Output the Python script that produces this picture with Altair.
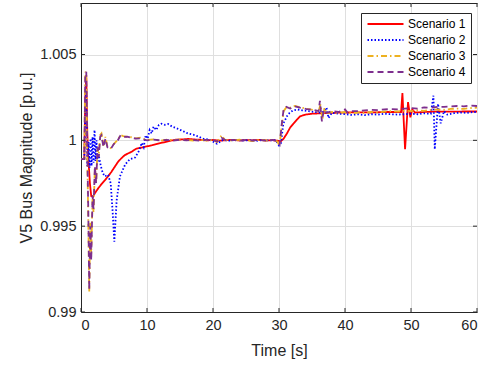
import altair as alt
import pandas as pd

scenarios = ["Scenario 1", "Scenario 2", "Scenario 3", "Scenario 4"]
colors = ["#FF0000", "#0000FF", "#EDB120", "#7E2F8E"]
dashes = [[1, 0], [1.5, 2], [6, 3, 1.5, 3], [6, 4]]

x_ticks = [0, 10, 20, 30, 40, 50, 60]
y_ticks = [0.99, 0.995, 1.0, 1.005]

s1 = [(0, 0.9989), (0.5, 0.9989), (0.65, 1.0025), (0.8, 1.0038), (0.95, 1.0005), (1.1, 0.9990),
      (1.35, 0.9975), (1.55, 0.99675), (1.8, 0.9967), (2.1, 0.99692), (2.6, 0.9972), (3.1, 0.99745),
      (3.6, 0.99767), (4.1, 0.9979), (4.6, 0.99816), (5.1, 0.99845), (5.6, 0.99874), (6.1, 0.99895),
      (6.6, 0.99913), (7.1, 0.99923), (7.6, 0.99932), (8.4, 0.99952), (9.2, 0.99958), (10.0, 0.99965),
      (10.8, 0.99972), (11.7, 0.99981), (12.5, 0.99988), (13.3, 0.99995), (14.2, 1.00003), (15.2, 1.00005),
      (16.2, 1.00008), (17.2, 1.00005), (18.2, 1.00003), (19.1, 1.0), (20.0, 1.00002), (21.0, 0.99998),
      (22.0, 1.00001), (23.0, 1.00003), (24.0, 0.99999), (25.0, 1.00002), (26.0, 1.0), (27.0, 1.00003),
      (28.0, 0.99999), (29.0, 1.00001), (29.8, 0.99998), (30.3, 0.99995), (30.7, 1.0001), (31.2, 1.0004),
      (31.7, 1.00075), (32.2, 1.00098), (32.7, 1.0012), (33.2, 1.0014), (34.0, 1.0015), (35.0, 1.00155),
      (36.5, 1.00158), (38.0, 1.0016), (40.0, 1.00162), (42.0, 1.00163), (44.0, 1.00162), (46.0, 1.00165),
      (48.0, 1.00165), (48.5, 1.00165), (48.7, 1.00275), (49.1, 0.99948), (49.55, 1.00223), (49.9, 1.00134),
      (50.2, 1.0018), (50.6, 1.00162), (52.0, 1.00165), (54.0, 1.00168), (56.0, 1.00167), (58.0, 1.00168),
      (60.0, 1.00168)]

s2 = [(0, 0.9989), (0.5, 0.9989), (0.65, 1.0015), (0.8, 1.0030), (0.95, 0.9985), (1.15, 0.9999),
      (1.3, 0.9984), (1.45, 1.0001), (1.6, 0.9985), (1.75, 1.0002), (1.9, 0.9987), (2.05, 1.0006),
      (2.2, 0.9988), (2.35, 1.0000), (2.5, 0.9987), (2.7, 0.9991), (3.0, 0.9985), (3.3, 0.9981),
      (3.6, 0.9979), (4.1, 0.9980), (4.5, 0.9975), (4.8, 0.9958), (5.05, 0.9941), (5.4, 0.9965),
      (5.9, 0.9979), (6.7, 0.9986), (7.4, 0.9989), (8.2, 0.9990), (8.8, 0.9994), (9.2, 0.99985),
      (9.5, 0.9996), (9.8, 1.0003), (10.1, 1.0001), (10.4, 1.0006), (10.7, 1.0004), (11.0, 1.0008),
      (11.4, 1.0006), (11.8, 1.0009), (12.2, 1.00097), (12.7, 1.0009), (13.2, 1.00095), (13.8, 1.0008),
      (14.5, 1.0007), (15.2, 1.00058), (16.2, 1.0004), (17.3, 1.0003), (18.5, 1.0001), (19.5, 1.00003),
      (20.6, 0.9998), (21.5, 1.00002), (22.5, 0.99998), (23.5, 1.00003), (24.5, 0.99999), (25.5, 1.00001),
      (26.5, 0.99997), (27.5, 1.00002), (28.5, 0.99999), (29.5, 1.00001), (30.0, 0.9997), (30.3, 0.99985),
      (30.65, 1.00097), (31.2, 1.0014), (31.6, 1.0016), (32.1, 1.00174), (32.8, 1.0018), (33.5, 1.00175),
      (34.5, 1.0017), (35.5, 1.00165), (36.5, 1.0016), (37.2, 1.0019), (37.5, 1.0013), (38.0, 1.0016),
      (39.0, 1.00155), (40.0, 1.00153), (41.0, 1.00148), (42.0, 1.00152), (43.0, 1.00147), (44.0, 1.00152),
      (45.0, 1.0015), (46.0, 1.00155), (47.0, 1.00152), (48.0, 1.0015), (49.0, 1.00152), (50.0, 1.00155),
      (51.0, 1.00152), (52.0, 1.00157), (53.0, 1.00155), (53.4, 1.0026), (53.6, 0.99948), (54.1, 1.00213),
      (54.5, 1.00099), (55.0, 1.0017), (55.5, 1.0015), (56.5, 1.00158), (57.5, 1.00162), (58.5, 1.0016),
      (59.5, 1.00165), (60.0, 1.00165)]

s3 = [(0, 0.9989), (0.5, 0.9989), (0.65, 1.0040), (0.8, 1.0036), (0.95, 0.9990), (1.1, 0.9955),
      (1.25, 0.9912), (1.4, 0.9952), (1.55, 0.9934), (1.75, 0.9966), (1.9, 0.9958), (2.1, 0.9984),
      (2.3, 0.9976), (2.5, 0.9995), (2.7, 0.9992), (2.9, 1.0003), (3.1, 1.0004), (3.4, 0.9997),
      (3.7, 1.0002), (4.0, 0.99965), (4.5, 0.99955), (5.0, 0.9998), (5.5, 1.0000), (6.0, 1.0003),
      (6.4, 1.00025), (7.0, 1.0002), (7.6, 1.00018), (8.3, 1.00012), (9.0, 1.00015), (10.0, 1.00002),
      (11.0, 1.00005), (12.0, 0.99998), (13.0, 1.00004), (14.0, 1.00001), (15.0, 1.00006), (16.0, 1.00002),
      (17.0, 0.99999), (18.0, 1.00004), (19.0, 0.99998), (20.0, 1.00002), (20.6, 0.9999), (21.3, 1.0003),
      (21.8, 1.00002), (23.0, 0.99998), (24.0, 1.00004), (25.0, 1.0), (26.0, 0.99996), (27.0, 1.00003),
      (28.0, 0.99999), (29.0, 1.00003), (29.7, 0.99995), (30.1, 0.9997), (30.4, 1.0008), (30.7, 1.0017),
      (31.1, 1.00192), (31.7, 1.0019), (32.4, 1.002), (33.2, 1.00192), (34.2, 1.00184), (35.2, 1.00176),
      (36.0, 1.0017), (36.3, 1.0021), (36.6, 1.0012), (36.9, 1.0019), (37.2, 1.00155), (38.0, 1.00165),
      (39.0, 1.0016), (40.0, 1.00165), (41.0, 1.00158), (42.0, 1.00162), (43.0, 1.0016), (44.0, 1.00165),
      (45.0, 1.00162), (46.0, 1.00168), (47.0, 1.0017), (48.0, 1.00168), (49.0, 1.00172), (50.0, 1.0017),
      (51.0, 1.00175), (52.0, 1.00172), (53.0, 1.00178), (54.0, 1.0018), (55.0, 1.00178), (56.0, 1.00183),
      (57.0, 1.00185), (58.0, 1.00183), (59.0, 1.00188), (60.0, 1.0019)]

s4 = [(0, 0.9989), (0.5, 0.9989), (0.65, 1.0038), (0.8, 1.0040), (0.95, 0.9995), (1.1, 0.9960),
      (1.25, 0.9913), (1.4, 0.9950), (1.55, 0.9930), (1.75, 0.9968), (1.9, 0.9960), (2.1, 0.9985),
      (2.3, 0.9975), (2.5, 0.9996), (2.7, 0.9990), (2.9, 1.0002), (3.1, 1.0003), (3.4, 0.9996),
      (3.7, 1.0001), (4.0, 0.9996), (4.5, 0.9995), (5.0, 0.9998), (5.5, 0.99995), (6.0, 1.0003),
      (6.4, 1.0002), (7.0, 1.00022), (7.6, 1.00015), (8.3, 1.0001), (9.0, 1.00012), (10.0, 1.0),
      (11.0, 1.00004), (12.0, 1.0), (13.0, 1.00003), (14.0, 0.99999), (15.0, 1.00004), (16.0, 1.0),
      (17.0, 1.00002), (18.0, 0.99998), (19.0, 1.00003), (20.0, 1.00003), (20.6, 0.99992), (21.3, 1.00015),
      (22.0, 0.99999), (23.0, 1.00003), (24.0, 0.99998), (25.0, 1.00002), (26.0, 0.99999), (27.0, 1.00002),
      (28.0, 0.99998), (29.0, 1.00002), (29.7, 0.99996), (30.1, 0.99975), (30.4, 1.0009), (30.7, 1.0018),
      (31.1, 1.00195), (31.7, 1.00185), (32.4, 1.00198), (33.2, 1.0019), (34.2, 1.00182), (35.2, 1.00178),
      (36.0, 1.0017), (36.2, 1.0023), (36.5, 1.0011), (36.8, 1.0018), (37.2, 1.0016), (38.0, 1.0017),
      (39.0, 1.00165), (40.0, 1.0018), (40.4, 1.0016), (41.0, 1.0017), (42.0, 1.0017), (43.0, 1.00175),
      (44.0, 1.00178), (45.0, 1.00176), (46.0, 1.0018), (47.0, 1.00182), (48.0, 1.0018), (49.0, 1.00185),
      (50.0, 1.00188), (51.0, 1.00185), (52.0, 1.00192), (53.0, 1.0019), (54.0, 1.00195), (55.0, 1.00195),
      (56.0, 1.00198), (57.0, 1.002), (58.0, 1.00198), (59.0, 1.00202), (60.0, 1.002)]

rows = []
for name, series in zip(scenarios, [s1, s2, s3, s4]):
    for i, (t, v) in enumerate(series):
        rows.append({"t": t, "v": v, "s": name, "i": i})
df = pd.DataFrame(rows)

W, H = 396, 309
FONT = "Liberation Sans"
AX = "#262626"
GRID = "#DFDFDF"

xs = alt.Scale(domain=[0, 60], nice=False, zero=False)
ys = alt.Scale(domain=[0.99, 1.008], nice=False, zero=False)

lines = alt.Chart(df).mark_line(strokeWidth=1.8, clip=True).encode(
    x=alt.X("t:Q", scale=xs,
            axis=alt.Axis(title="Time [s]", values=x_ticks, grid=True, gridColor=GRID,
                          ticks=False, domainColor=AX, labelColor=AX, titleColor=AX,
                          labelFont=FONT, titleFont=FONT, labelFontSize=14.5, titleFontSize=16,
                          titleFontWeight=400, labelPadding=6, titlePadding=11)),
    y=alt.Y("v:Q", scale=ys,
            axis=alt.Axis(title="V5 Bus Magnitude [p.u.]", values=y_ticks, grid=True, gridColor=GRID,
                          ticks=False, domainColor=AX, labelColor=AX, titleColor=AX,
                          labelFont=FONT, titleFont=FONT, labelFontSize=14.5, titleFontSize=16,
                          titleFontWeight=400, labelPadding=5, titlePadding=5,
                          labelExpr="datum.value == 1 ? '1' : format(datum.value, '.3~f')")),
    color=alt.Color("s:N", scale=alt.Scale(domain=scenarios, range=colors),
                    legend=alt.Legend(title=None, orient="none", legendX=280, legendY=10,
                                      fillColor="white", strokeColor=AX, padding=5,
                                      labelFont=FONT, labelFontSize=12, labelColor="black",
                                      symbolType="M-1,0H7", symbolSize=81, symbolStrokeWidth=1.8,
                                      rowPadding=4, labelOffset=30)),
    strokeDash=alt.StrokeDash("s:N", scale=alt.Scale(domain=scenarios, range=dashes), legend=None),
    order="i:Q",
)

xt = pd.DataFrame({"t": x_ticks})
yt = pd.DataFrame({"v": y_ticks})

xtick_b = alt.Chart(xt).mark_rule(color=AX, strokeWidth=1).encode(
    x=alt.X("t:Q", scale=xs), y=alt.value(H), y2=alt.value(H - 4))
xtick_t = alt.Chart(xt).mark_rule(color=AX, strokeWidth=1).encode(
    x=alt.X("t:Q", scale=xs), y=alt.value(0), y2=alt.value(4))
ytick_l = alt.Chart(yt).mark_rule(color=AX, strokeWidth=1).encode(
    y=alt.Y("v:Q", scale=ys), x=alt.value(0), x2=alt.value(4))
ytick_r = alt.Chart(yt).mark_rule(color=AX, strokeWidth=1).encode(
    y=alt.Y("v:Q", scale=ys), x=alt.value(W), x2=alt.value(W - 4))

chart = alt.layer(lines, xtick_b, xtick_t, ytick_l, ytick_r).properties(
    width=W, height=H,
    autosize=alt.AutoSizeParams(type="none"),
    padding={"left": 81, "top": 3, "right": 12, "bottom": 57},
    background="white",
).configure_view(stroke=AX, strokeWidth=1).configure_axis(titleFontWeight=400)

chart.save("out.html", embed_options={"renderer": "svg", "actions": False})
